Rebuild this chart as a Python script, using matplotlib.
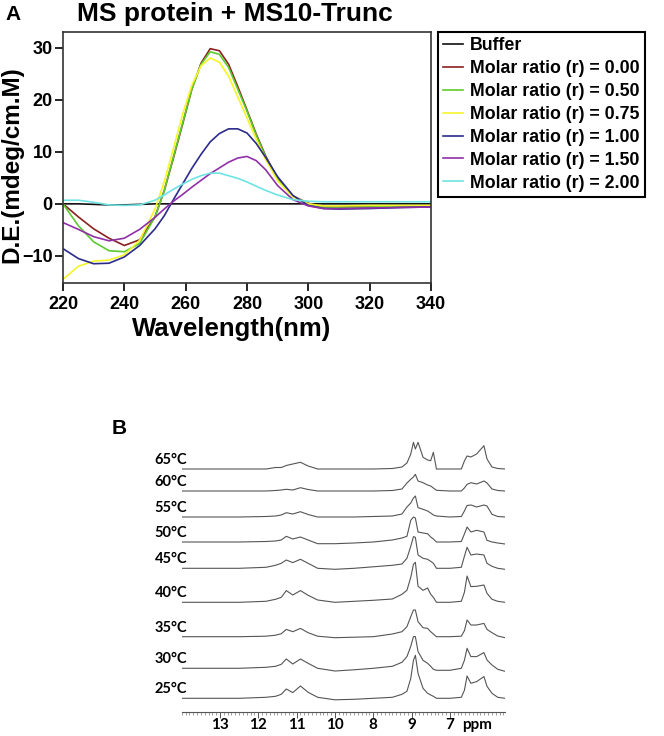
import numpy as np
import matplotlib
matplotlib.use("Agg")
import matplotlib.pyplot as plt
from matplotlib.ticker import MultipleLocator, FixedLocator

# ---- panel A: CD spectra ----
wl = [220, 225, 230, 235, 240, 245, 250, 253, 256, 259, 262, 265, 268, 271, 274, 277,
      280, 283, 286, 290, 295, 300, 305, 310, 320, 330, 340]
cd_buffer = [0, 0, -0.1, -0.2, -0.2, -0.1, 0, 0, 0, 0, 0, 0, 0, 0, 0, 0,
             0, 0, 0, 0, 0, 0, 0, 0, 0, 0, 0]
cd_r000 = [0, -2.5, -4.8, -6.6, -8.0, -6.9, -2.5, 2.5, 8.8, 15.3, 22, 27, 29.8, 29.4, 26.8, 22.5,
           18, 13.4, 9.3, 4.8, 1.5, 0.1, -0.6, -0.6, -0.5, -0.4, -0.4]
cd_r050 = [0, -4.2, -7.3, -9.0, -9.2, -7.6, -2.5, 2.5, 9, 15.5, 22, 26.8, 29.2, 28.7, 26.2, 22,
           17.8, 13.2, 9.1, 4.7, 1.4, 0, -0.7, -0.7, -0.6, -0.5, -0.5]
cd_r075 = [-14.5, -12.0, -11.0, -10.8, -9.8, -7.0, -1.0, 4.2, 10.6, 17.2, 22.8, 26.5, 28.0, 27.2, 24.5, 20.5,
           16.5, 12.4, 8.6, 4.4, 1.3, 0, -0.4, -0.4, -0.3, -0.3, -0.3]
cd_r100 = [-8.6, -10.5, -11.5, -11.4, -10.2, -8.0, -4.8, -2.3, 0.8, 3.8, 6.8, 9.5, 11.9, 13.5, 14.4, 14.4,
           13.6, 11.6, 9.0, 5.2, 1.6, -0.3, -0.9, -1.0, -0.9, -0.7, -0.6]
cd_r150 = [-3.6, -4.9, -6.3, -7.1, -6.6, -4.9, -2.6, -1.0, 0.5, 1.8, 3.2, 4.5, 5.8, 6.9, 8.0, 8.8,
           9.1, 8.3, 6.6, 3.5, 0.8, -0.4, -0.9, -0.9, -0.8, -0.7, -0.6]
cd_r200 = [0.7, 0.7, 0.3, -0.2, -0.3, -0.2, 0.7, 1.7, 2.8, 3.8, 4.7, 5.4, 5.9, 5.9, 5.4, 4.9,
           4.2, 3.4, 2.6, 1.7, 0.8, 0.5, 0.4, 0.4, 0.4, 0.4, 0.4]
cd_labels = ["Buffer", "Molar ratio (r) = 0.00", "Molar ratio (r) = 0.50",
             "Molar ratio (r) = 0.75", "Molar ratio (r) = 1.00",
             "Molar ratio (r) = 1.50", "Molar ratio (r) = 2.00"]
cd_colors = ["#111111", "#8B2020", "#5DCB2E", "#F5F52A", "#2B2B8C", "#9030A8", "#6FE3E3"]

# ---- panel B: 1H NMR spectra (heights above each baseline) ----
nmr_u = [-1.0, 0.5, 1.2, 1.45, 1.6, 1.73, 1.9, 2.1, 2.3, 2.55, 3.0, 3.5, 4.0, 4.5,
         4.75, 4.88, 4.98, 5.05, 5.1, 5.17, 5.3, 5.42, 5.5, 5.57, 5.65, 6.0, 6.3,
         6.38, 6.45, 6.55, 6.7, 6.89, 6.97, 7.1, 7.25, 7.44]
h65 = [0, 0, 0, 1.5, 1.5, 3.5, 5, 6.7, 3, 0, 0, 0, 0, 0.5,
       2, 6, 15, 26.7, 20, 26.7, 11.7, 9, 8.3, 16.7, 0, 0, 0,
       8, 13, 12, 15, 23.3, 10, 2, 0.5, 0]
h60 = [0, 0, 0, 0.5, 1, 1.7, 1, 3.3, 1.5, 0, 0, 0, 0, 0.5,
       2, 8, 11.7, 14, 16.7, 10, 8.3, 6, 5, 3, 0.7, 0, 0,
       3, 6.7, 8.3, 7, 10, 8, 2, 0.5, 0]
h55 = [0, 0, 0.5, 1, 2, 4.3, 3, 5.3, 2.5, 0, 0, 0, 0.5, 1,
       3, 10, 14, 19, 21, 9.3, 7.7, 6, 4, 2, 1, 0, 0.5,
       6, 11.5, 12, 10, 12, 11, 2.7, 0.5, 0]
h50 = [0, 0, 0.5, 1, 2, 5.7, 3, 5, 2, -1.7, -1.7, -1, 0, 2,
       4, 5.7, 21.7, 25, 24, 10, 9, 8.3, 5, 3, 0, 0, 0.5,
       8, 15, 10, 11.7, 10, 1.7, 0, -1, -2]
h45 = [0, 0, 1, 3, 5, 8.3, 5.7, 9, 5, 0, -1, 0, 1.5, 3,
       4.3, 10, 22, 31.7, 31, 13.3, 10, 9, 7, 5, 0, 0, 1,
       12, 21, 13.3, 14.3, 13.3, 5, 2, 0, -1]
h40 = [0, 0, 1, 3, 5, 11.7, 7.3, 11.7, 7, 2.3, 0, 1, 2, 3.3,
       8, 12, 25, 38, 40, 16, 12, 14.3, 8, 5, 0, 0, 1,
       10, 26.3, 15.7, 16, 17.3, 9, 3, 1, 0]
h35 = [0, 0, 0.5, 1.5, 3, 7.3, 5, 8.3, 4, 0.5, -1, -0.5, 0, 2.7,
       5, 10, 20, 26.7, 26.7, 15, 9, 8.3, 5, 2.7, 0, 0, 0.5,
       6, 16.7, 11.7, 11.7, 13.3, 7.3, 4, 0.7, -1]
h30 = [0, 0, 1, 2, 4, 9.3, 4.3, 9.3, 5, 0, -2.7, -1.5, 0, 2,
       6, 11.7, 22, 31.7, 31.7, 16.7, 8, 5, 2, -1, -2, -2, 0,
       8, 20, 11.7, 11.7, 15.7, 8.3, 3.3, -1, -3]
h25 = [0, 0, 1, 2, 4, 9.3, 5.7, 12.3, 6, 1, -1.5, -1, 0, 1,
       4, 7, 20, 38, 43, 25, 10, 5, 3.3, 2, 0, 0, 1,
       8, 22.3, 15, 16.7, 21.7, 12, 5, 1, 0]
nmr_temps = ["65°C", "60°C", "55°C", "50°C", "45°C", "40°C", "35°C", "30°C", "25°C"]
nmr_base = [242.5, 220.5, 194.5, 169.5, 143.2, 109.2, 74.8, 43.2, 13.2]
ppm_labels = ["13", "12", "11", "10", "8", "9", "7", "ppm"]

W, H = 664, 736
fig = plt.figure(figsize=(W / 100, H / 100), dpi=100)
arial = "Liberation Sans"

# panel A
ax = fig.add_axes([63 / W, 1 - 283 / H, 368 / W, 251 / H])
for ys, lab, col in zip([cd_buffer, cd_r000, cd_r050, cd_r075, cd_r100, cd_r150, cd_r200],
                        cd_labels, cd_colors):
    ax.plot(wl, ys, color=col, lw=1.2, label=lab)
ax.set_xlim(220, 340)
ax.set_ylim(-15.2, 33)
ax.set_xticks([220, 240, 260, 280, 300, 320, 340])
ax.set_yticks([-10, 0, 10, 20, 30])
for s in ax.spines.values():
    s.set_linewidth(1.2)
    s.set_color("#333333")
ax.tick_params(length=5.5, width=1.2, labelsize=13)
ax.tick_params(axis="x", pad=4)
ax.tick_params(axis="y", pad=2)
for t in ax.get_xticklabels() + ax.get_yticklabels():
    t.set_fontfamily(arial)
    t.set_fontweight("bold")
ax.set_xlabel("Wavelength(nm)", fontsize=18.5, fontweight="bold", family=arial)
ax.xaxis.set_label_coords((232 - 63) / 368, -0.135)
ax.xaxis.label.set_va("top")
ax.set_ylabel("D.E.(mdeg/cm.M)", fontsize=17.5, fontweight="bold", family=arial)
ax.yaxis.set_label_coords((12 - 63) / 368, (283 - 165) / 251)
ax.yaxis.label.set_va("center")
fig.text(235 / W, 1 - 14 / H, "MS protein + MS10-Trunc", fontsize=19, fontweight="bold",
         family=arial, ha="center", va="center")
fig.text(5 / W, 1 - 15 / H, "A", fontsize=15, fontweight="bold", family=arial, va="center")

leg = ax.legend(loc="upper left", bbox_to_anchor=(438 / W, 1 - 32 / H),
                bbox_transform=fig.transFigure, borderaxespad=0, fancybox=False,
                prop={"family": arial, "weight": "bold", "size": 12.8},
                handlelength=1.1, handletextpad=0.4, labelspacing=0.33,
                borderpad=0.3, framealpha=1)
leg.get_frame().set_edgecolor("black")
leg.get_frame().set_linewidth(1.5)

# panel B
bx = fig.add_axes([181.7 / W, 1 - 711.5 / H, (505 - 181.7) / W, 275 / H])
for hs, base, lab in zip([h65, h60, h55, h50, h45, h40, h35, h30, h25], nmr_base, nmr_temps):
    bx.plot(nmr_u, np.array(hs) + base, color="#555555", lw=0.8)
    bx.text(-1.71, base + 9, lab, fontsize=10.5, fontweight="bold", family="Lato",
            va="center", ha="left", clip_on=False)
bx.set_xlim(-1.0, 7.44)
bx.set_ylim(0, 275)
for k in ["left", "right", "top"]:
    bx.spines[k].set_visible(False)
bx.spines["bottom"].set_color("#555555")
bx.spines["bottom"].set_linewidth(0.8)
bx.set_yticks([])
bx.xaxis.set_major_locator(FixedLocator([0, 1, 2, 3, 4, 5, 6, 6.72]))
bx.set_xticklabels(ppm_labels)
bx.xaxis.set_minor_locator(MultipleLocator(0.1))
bx.tick_params(axis="x", which="major", length=4, width=0.7, color="#555555", pad=1,
               labelsize=11)
bx.tick_params(axis="x", which="minor", length=2.5, width=0.5, color="#777777")
bx.xaxis.get_major_ticks()[-1].tick1line.set_visible(False)
for t in bx.get_xticklabels():
    t.set_fontfamily("Lato")
    t.set_fontweight("bold")
fig.text(112 / W, 1 - 428 / H, "B", fontsize=15, fontweight="bold", family=arial, va="center")

fig.savefig("out.png", dpi=100)
